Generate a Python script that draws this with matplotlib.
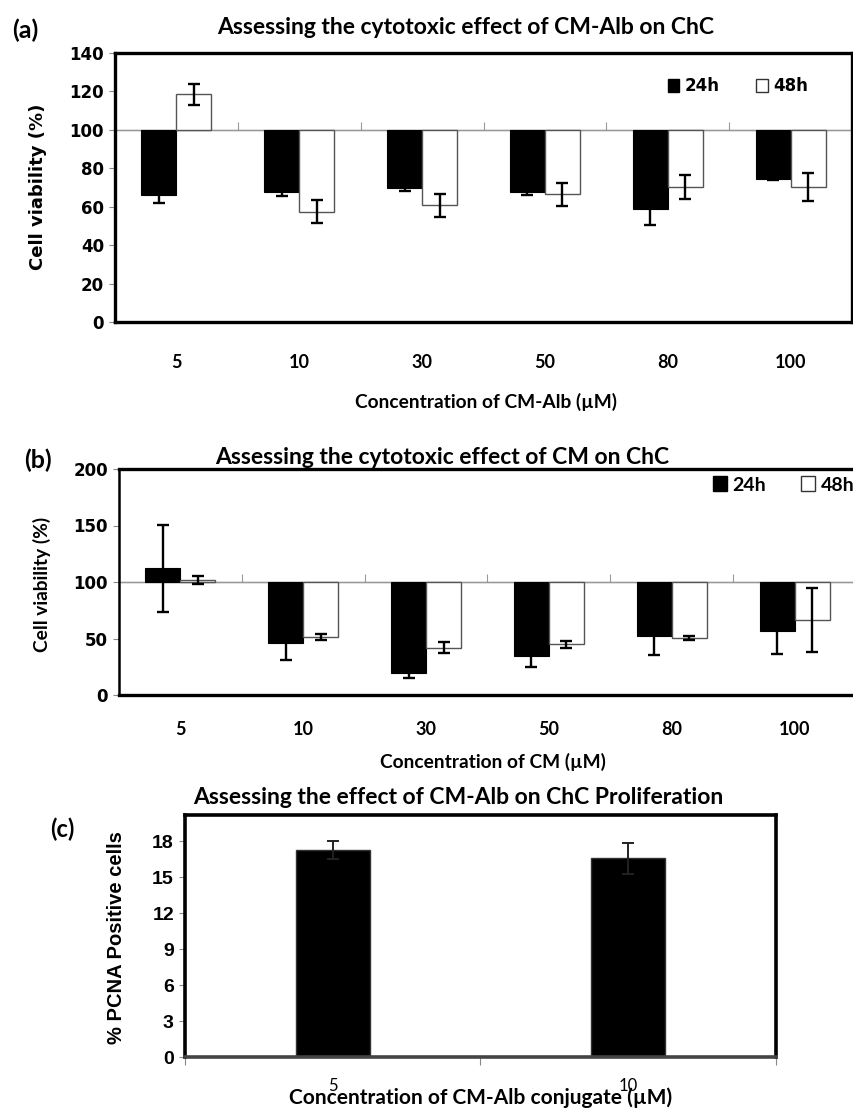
import numpy as np
import matplotlib
matplotlib.use('Agg')
import matplotlib.pyplot as plt
from matplotlib.patches import Patch

# Data
conc = ['5', '10', '30', '50', '80', '100']

# (a) CM-Alb
a_24h = [66, 67.5, 69.5, 67.5, 59, 74.2]
a_24h_err = [4, 2, 1.5, 1.5, 8.5, 0.5]
a_48h = [118.5, 57.4, 60.7, 66.6, 70.1, 70.1]
a_48h_err = [5.5, 6, 6, 6, 6.3, 7.3]

# (b) CM
b_24h = [112, 45.7, 19.7, 34.8, 52.5, 56.6]
b_24h_err = [38.5, 15, 5, 10, 17, 20]
b_48h = [102, 51.6, 42, 44.8, 50.4, 66.4]
b_48h_err = [3.5, 2.5, 4.5, 3, 2, 28]

# (c) PCNA
c_conc = ['5', '10']
c_pcna = [17.3, 16.6]
c_pcna_err = [0.75, 1.3]

W, H = 854, 1110
fig = plt.figure(figsize=(W / 100, H / 100), dpi=100)


def box(l, t, r, b):
    # pixel box -> figure fraction rect
    return [l / W, 1 - b / H, (r - l) / W, (b - t) / H]


def viability_panel(ax, v24, e24, v48, e48, ymax, yticks, base=100):
    x = np.arange(len(conc))
    w = 0.285
    ax.bar(x - w / 2, np.array(v24) - base, w, bottom=base, color='black',
           edgecolor='black', linewidth=0.8, zorder=2)
    ax.bar(x + w / 2, np.array(v48) - base, w, bottom=base, color='white',
           edgecolor='#555555', linewidth=1.0, zorder=2)
    ax.errorbar(x - w / 2, v24, yerr=e24, fmt='none', ecolor='black',
                elinewidth=1.7, capsize=4.5, capthick=1.7, zorder=3)
    ax.errorbar(x + w / 2, v48, yerr=e48, fmt='none', ecolor='black',
                elinewidth=1.7, capsize=4.5, capthick=1.7, zorder=3)
    ax.set_xlim(-0.5, len(conc) - 0.5)
    ax.set_ylim(0, ymax)
    ax.set_yticks(yticks)
    ax.set_xticks(x)
    for s in ax.spines.values():
        s.set_linewidth(2.4)
        s.set_color('black')
    ax.tick_params(axis='y', length=4, width=0.8, color='#888888', pad=4)
    ax.tick_params(axis='x', length=0)
    # category axis crossing at 100
    ax.axhline(base, color='#999999', linewidth=1.0, zorder=1)
    sec = ax.secondary_xaxis(base / ymax)
    sec.spines['bottom'].set_visible(False)
    sec.set_xticks(np.arange(len(conc) + 1) - 0.5)
    sec.set_xticklabels([])
    sec.tick_params(length=6, width=0.8, color='#999999', direction='out')
    return x


# ---------- (a) ----------
ax1 = fig.add_axes(box(115, 53, 852, 322))
viability_panel(ax1, a_24h, a_24h_err, a_48h, a_48h_err, 140, range(0, 141, 20))
ax1.set_xticklabels(conc, fontfamily='Lato', fontweight='bold', fontsize=13)
ax1.tick_params(axis='x', pad=23)
ax1.set_yticklabels([str(v) for v in range(0, 141, 20)], fontfamily='DejaVu Sans',
                    fontweight='bold', fontsize=12)
ax1.legend([Patch(facecolor='black', edgecolor='black'),
            Patch(facecolor='white', edgecolor='#333333')], ['24h', '48h'],
           loc='center', bbox_to_anchor=(0.845, 0.877), ncol=2, frameon=False,
           handlelength=0.7, handleheight=0.8, handletextpad=0.3,
           columnspacing=2.2, prop={'family': 'DejaVu Sans', 'weight': 'bold', 'size': 12})
fig.text(12 / W, 1 - 30 / H, '(a)', fontfamily='Lato', fontweight='bold', fontsize=18,
         ha='left', va='center')
fig.text(466 / W, 1 - 27 / H, 'Assessing the cytotoxic effect of CM-Alb on ChC',
         fontfamily='Lato', fontweight='bold', fontsize=16.5, ha='center', va='center')
fig.text(38 / W, 1 - 187 / H, 'Cell viability (%)', fontfamily='DejaVu Sans',
         fontweight='bold', fontsize=13, rotation=90, ha='center', va='center')
fig.text(486 / W, 1 - 402 / H, 'Concentration of CM-Alb (µM)', fontfamily='Lato',
         fontweight='bold', fontsize=13.8, ha='center', va='center')

# ---------- (b) ----------
ax2 = fig.add_axes(box(119, 469, 856, 695))
viability_panel(ax2, b_24h, b_24h_err, b_48h, b_48h_err, 200, range(0, 201, 50))
ax2.set_xticklabels(conc, fontfamily='Lato', fontweight='bold', fontsize=13)
ax2.tick_params(axis='x', pad=19)
ax2.set_yticklabels([str(v) for v in range(0, 201, 50)], fontfamily='DejaVu Sans',
                    fontweight='bold', fontsize=12)
ax2.spines['left'].set_linewidth(1.8)
ax2.legend([Patch(facecolor='black', edgecolor='black'),
            Patch(facecolor='white', edgecolor='#333333')], ['24h', '48h'],
           loc='center', bbox_to_anchor=(0.902, 0.929), ncol=2, frameon=False,
           handlelength=0.7, handleheight=0.8, handletextpad=0.3,
           columnspacing=1.8, prop={'family': 'Lato', 'weight': 'bold', 'size': 14})
fig.text(38 / W, 1 - 460 / H, '(b)', fontfamily='Lato', fontweight='bold', fontsize=18,
         ha='center', va='center')
fig.text(442 / W, 1 - 457 / H, 'Assessing the cytotoxic effect of CM on ChC',
         fontfamily='Lato', fontweight='bold', fontsize=16.5, ha='center', va='center')
fig.text(42 / W, 1 - 584 / H, 'Cell viability (%)', fontfamily='Lato',
         fontweight='bold', fontsize=13.8, rotation=90, ha='center', va='center')
fig.text(493 / W, 1 - 762 / H, 'Concentration of CM (µM)', fontfamily='Lato',
         fontweight='bold', fontsize=13.8, ha='center', va='center')

# ---------- (c) ----------
ax3 = fig.add_axes(box(185, 815, 776, 1057))
xc = np.arange(len(c_conc))
ax3.bar(xc, c_pcna, 0.25, color='black', edgecolor='#333333', linewidth=1.0, zorder=2)
ax3.errorbar(xc, c_pcna, yerr=c_pcna_err, fmt='none', ecolor='#222222',
             elinewidth=1.4, capsize=4, capthick=1.4, zorder=3)
ax3.set_xlim(-0.5, 1.5)
ax3.set_ylim(0, 20.2)
ax3.set_yticks(range(0, 19, 3))
ax3.set_yticklabels([str(v) for v in range(0, 19, 3)], fontfamily='Liberation Sans',
                    fontweight='bold', fontsize=14)
ax3.set_xticks(xc)
ax3.set_xticklabels(c_conc, fontfamily='Lato', fontsize=12)
ax3.set_xticks([-0.5, 0.5, 1.5], minor=True)
ax3.tick_params(axis='x', which='major', length=0, pad=15)
ax3.tick_params(axis='x', which='minor', length=6, width=0.8, color='#888888')
ax3.tick_params(axis='y', length=4, width=0.8, color='#888888', pad=4)
for s in ax3.spines.values():
    s.set_linewidth(2.6)
    s.set_color('black')
ax3.spines['bottom'].set_color('#444444')
fig.text(62 / W, 1 - 829 / H, '(c)', fontfamily='Lato', fontweight='bold', fontsize=17,
         ha='center', va='center')
fig.text(458 / W, 1 - 798 / H, 'Assessing the effect of CM-Alb on ChC Proliferation',
         fontfamily='Lato', fontweight='bold', fontsize=16.5, ha='center', va='center')
fig.text(117 / W, 1 - 938 / H, '% PCNA Positive cells', fontfamily='Liberation Sans',
         fontweight='bold', fontsize=14.5, rotation=90, ha='center', va='center')
fig.text(481 / W, 1 - 1098 / H, 'Concentration of CM-Alb conjugate (µM)', fontfamily='Lato',
         fontweight='bold', fontsize=15, ha='center', va='center')

fig.savefig('out.png', dpi=100)
